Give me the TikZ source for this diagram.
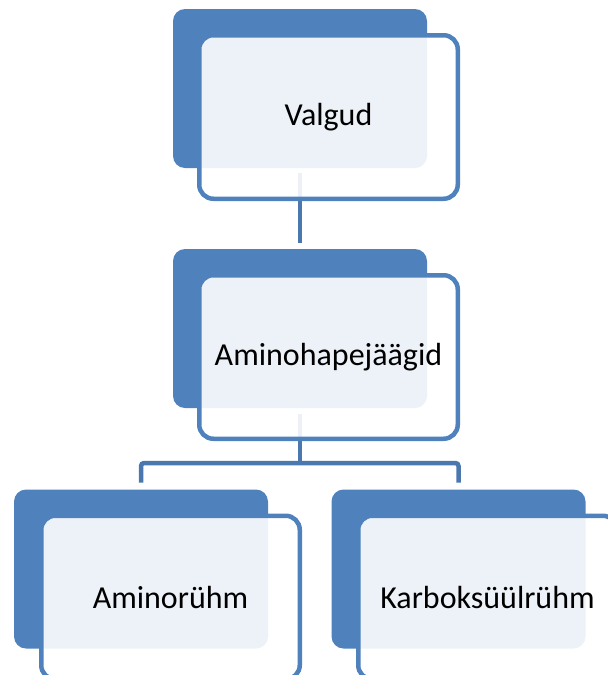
\documentclass[tikz,border=0pt]{standalone}
\usepackage{fontspec}
\setmainfont{Carlito}
\definecolor{accent}{HTML}{4F81BD}
\definecolor{connc}{HTML}{4A78AE}
\tikzset{
  back/.style={fill=accent, draw=none, rounded corners=12pt, minimum width=254pt, minimum height=159pt, inner sep=0pt, outer sep=0pt},
  front/.style={draw=accent, line width=4.5pt, fill=white, fill opacity=0.9, text opacity=1, rounded corners=14pt, minimum width=258.5pt, minimum height=163.5pt, inner sep=0pt, outer sep=0pt, font=\fontsize{32}{38}\selectfont},
  conn/.style={draw=connc, line width=4.5pt, rounded corners=3pt}
}
\begin{document}
\begin{tikzpicture}[x=1pt,y=-1pt]
\useasboundingbox (0,0) rectangle (608,675);
\clip (0,0) rectangle (608,675);
% back blocks
\node[back] (vb) at (300,88.5) {};
\node[back] (ab) at (300,328.5) {};
\node[back] (lb) at (141,569) {};
\node[back] (rb) at (458.5,569) {};
% connectors
\coordinate (j) at (300,463);
\draw[conn] ([yshift=-5pt]vb.south) -- ([yshift=6pt]ab.north);
\draw[conn] ([yshift=-6pt]ab.south) -- (j);
\draw[conn] ([yshift=7pt]lb.north) |- (j) -| ([yshift=7pt]rb.north);
% front blocks
\node[front] (v) at (328.5,117) {Valgud};
\node[front] (a) at (328.5,357) {Aminohapejäägid};
\node[front] (l) at (170.5,597.5) {Aminorühm};
\node[front] (r) at (487.5,597.5) {Karboksüülrühm};
\end{tikzpicture}
\end{document}
